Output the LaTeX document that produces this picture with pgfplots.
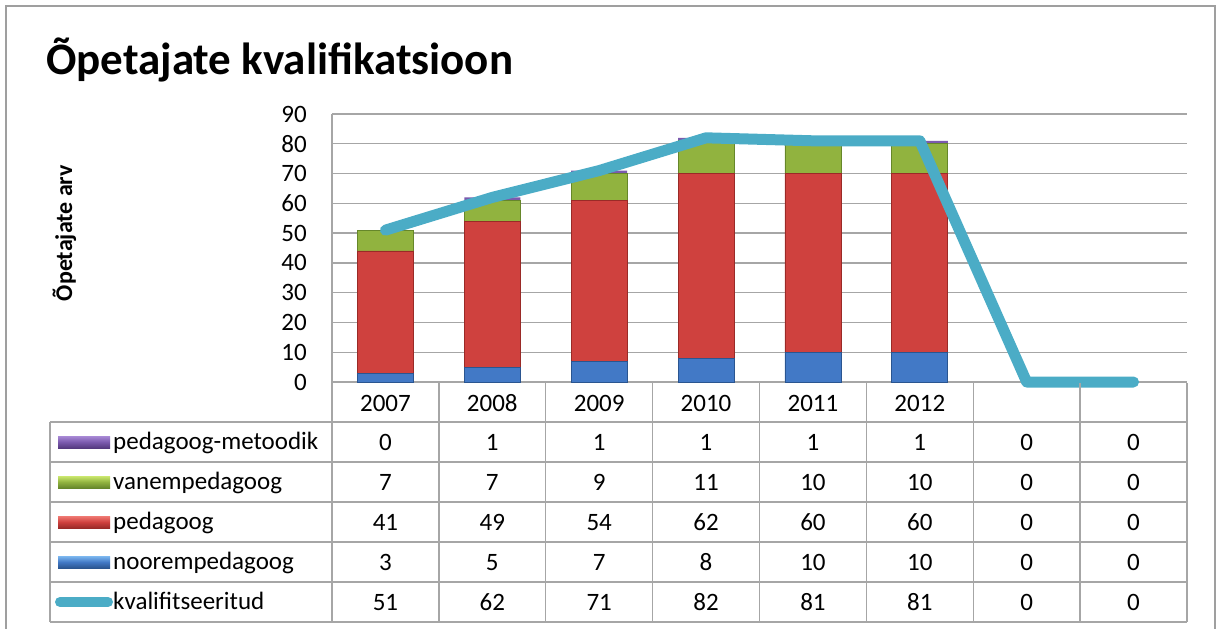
\documentclass[border=0pt]{standalone}
\usepackage{fontspec}
\setmainfont{Carlito}
\usepackage{pgfplots}
\usepackage{pgfplotstable}
\pgfplotsset{compat=1.18}

% columns: noorempedagoog, pedagoog, vanempedagoog, pedagoog-metoodik, kvalifitseeritud
\pgfplotstableread{
x noorem pedagoog vanem metoodik kval
0 3  41 7  0 51
1 5  49 7  1 62
2 7  54 9  1 71
3 8  62 11 1 82
4 10 60 10 1 81
5 10 60 10 1 81
6 0  0  0  0 0
7 0  0  0  0 0
}\kvaltable

\definecolor{cblue}{HTML}{4279C6}
\definecolor{cbluedk}{HTML}{2A5590}
\definecolor{cbluelt}{HTML}{7DB8F0}
\definecolor{cred}{HTML}{CF413E}
\definecolor{creddk}{HTML}{9A2A27}
\definecolor{credlt}{HTML}{F07A74}
\definecolor{cgreen}{HTML}{91B33F}
\definecolor{cgreendk}{HTML}{66872A}
\definecolor{cgreenlt}{HTML}{CBE86F}
\definecolor{cpurple}{HTML}{7B5AAE}
\definecolor{cpurpledk}{HTML}{55397F}
\definecolor{cpurplelt}{HTML}{A98AD6}
\definecolor{cline}{HTML}{4BACC6}
\definecolor{gridgray}{HTML}{A6A6A6}

\begin{document}
\begin{tikzpicture}
\path[use as bounding box] (0,0) rectangle (1221pt,-629pt);

\begin{scope}[x=1pt,y=-1pt]
% chart frame
\draw[gray!75, line width=2pt] (6,640) -- (6,6) -- (1215,6) -- (1215,640);
\end{scope}

\begin{axis}[
  at={(332pt,-382pt)}, anchor=south west,
  scale only axis, width=855pt, height=268pt,
  xmin=-0.5, xmax=7.5, ymin=0, ymax=90,
  ybar stacked, bar width=56pt,
  axis line style={draw=none},
  major tick length=0pt,
  ytick={0,10,...,90},
  ymajorgrids, grid style={gridgray, line width=1.3pt},
  xtick={0,...,7},
  xticklabels={2007,2008,2009,2010,2011,2012,{},{}},
  xticklabel style={anchor=base, yshift=-29pt},
  yticklabel style={anchor=east, inner sep=0pt, xshift=-25pt},
  tick label style={font=\fontsize{25}{29}\selectfont},
  /pgf/number format/assume math mode=true,
  clip=false,
]
\addplot[fill=cblue, draw=cbluedk, line width=0.8pt, skip coords between index={6}{8}]
  table[x=x, y=noorem] {\kvaltable};
\addplot[fill=cred, draw=creddk, line width=0.8pt, skip coords between index={6}{8}]
  table[x=x, y=pedagoog] {\kvaltable};
\addplot[fill=cgreen, draw=cgreendk, line width=0.8pt, skip coords between index={6}{8}]
  table[x=x, y=vanem] {\kvaltable};
\addplot[fill=cpurple, draw=none, skip coords between index={6}{8}]
  table[x=x, y=metoodik] {\kvaltable};
\end{axis}

\begin{axis}[
  at={(332pt,-382pt)}, anchor=south west,
  scale only axis, width=855pt, height=268pt,
  xmin=-0.5, xmax=7.5, ymin=0, ymax=90,
  hide axis, clip=false,
]
\addplot[cline, line width=11pt, line join=round, line cap=round]
  table[x=x, y=kval] {\kvaltable};
\end{axis}

\begin{scope}[x=1pt,y=-1pt]
% data table grid
\foreach \yy in {422,462,502,542,582,622}
  \draw[gridgray, line width=1.3pt] (50,\yy) -- (1187,\yy);
\draw[gridgray, line width=1.3pt] (332,114) -- (332,622);
\draw[gridgray, line width=1.3pt] (50,422) -- (50,622);
\foreach \k in {1,...,8}
  \draw[gridgray, line width=1.3pt] ({332+106.875*\k},383) -- ({332+106.875*\k},622);

% values
\foreach \col/\yy in {metoodik/442,vanem/482,pedagoog/522,noorem/562,kval/602}{
  \foreach \i in {0,...,7}{
    \pgfplotstablegetelem{\i}{\col}\of\kvaltable
    \node[font=\fontsize{25}{29}\selectfont, anchor=base] at ({332+106.875*(\i+0.5)},\yy+8) {\pgfplotsretval};
  }
}

% legend keys
\foreach \c/\yy in {cpurple/442,cgreen/482,cred/522,cblue/562}{
  \shade[top color=\c lt, bottom color=\c dk, middle color=\c] (58,\yy-6) rectangle (110,\yy+6);
}
\draw[cline, line width=10pt, line cap=round] (60,602) -- (108,602);
\foreach \t/\yy in {pedagoog-metoodik/442,vanempedagoog/482,pedagoog/522,noorempedagoog/562,kvalifitseeritud/602}
  \node[font=\fontsize{25}{29}\selectfont, anchor=base west, inner sep=0pt] at (113,\yy+7) {\t};

% titles
\node[font=\fontsize{45}{54}\selectfont\bfseries, anchor=base west, inner sep=0pt] at (46,74) {Õpetajate kvalifikatsioon};
\node[font=\fontsize{24}{28}\selectfont\bfseries, rotate=90, anchor=base, inner sep=0pt] at (72,233) {Õpetajate arv};
\end{scope}
\end{tikzpicture}
\end{document}
